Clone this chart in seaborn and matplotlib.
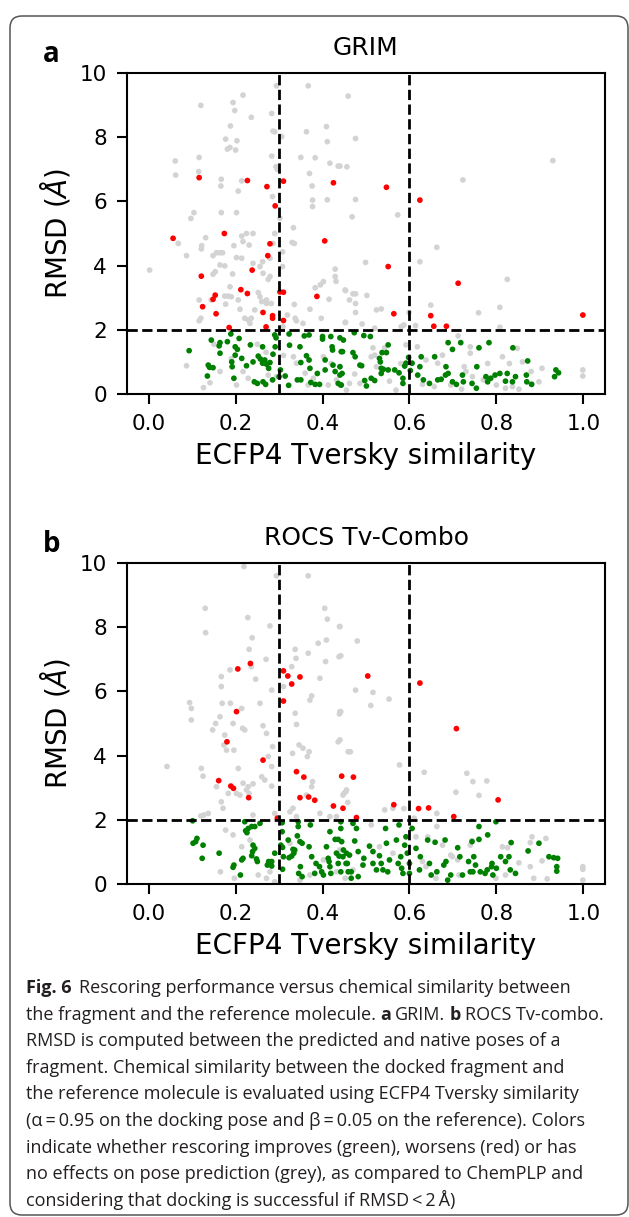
import matplotlib
matplotlib.use("Agg")
import matplotlib.pyplot as plt
from matplotlib.patches import FancyBboxPatch
import pandas as pd
import seaborn as sns

# ---- data: (Tversky similarity, RMSD) ----
grim_grey = [
    (0.002, 3.86), (0.061, 7.26), (0.062, 6.82), (0.068, 4.69), (0.087, 4.31), (0.087, 0.88),
    (0.097, 5.47), (0.104, 5.65), (0.12, 8.99), (0.116, 7.37), (0.115, 6.93), (0.121, 4.52),
    (0.122, 4.62), (0.131, 4.87), (0.116, 2.93), (0.116, 2.28), (0.12, 2.36), (0.126, 0.20),
    (0.141, 0.35), (0.144, 2.93), (0.148, 3.73), (0.153, 3.81), (0.148, 4.31), (0.156, 4.40),
    (0.164, 4.40), (0.17, 4.40), (0.167, 6.69), (0.166, 6.48), (0.167, 5.65), (0.164, 4.02),
    (0.175, 3.99), (0.177, 7.94), (0.181, 7.63), (0.187, 7.68), (0.188, 8.35), (0.194, 9.08),
    (0.198, 8.83), (0.203, 7.89), (0.2, 7.60), (0.206, 6.32), (0.214, 6.64), (0.202, 5.65),
    (0.196, 4.62), (0.202, 4.25), (0.214, 4.23), (0.214, 4.92), (0.217, 4.75), (0.225, 5.0),
    (0.24, 5.0), (0.231, 4.64), (0.217, 9.31), (0.236, 8.62), (0.175, 3.05), (0.183, 3.05),
    (0.19, 3.03), (0.177, 2.80), (0.193, 3.74), (0.187, 3.34), (0.206, 2.93), (0.21, 2.64),
    (0.221, 2.36), (0.229, 2.31), (0.236, 2.36), (0.233, 2.20), (0.24, 4.07), (0.244, 2.62),
    (0.256, 3.97), (0.262, 4.12), (0.263, 3.76), (0.252, 3.16), (0.256, 3.03), (0.26, 2.88),
    (0.271, 2.93), (0.275, 3.57), (0.279, 3.66), (0.271, 2.82), (0.282, 2.82), (0.283, 8.74),
    (0.286, 8.19), (0.29, 8.17), (0.283, 7.41), (0.293, 7.08), (0.296, 7.0), (0.285, 6.15),
    (0.29, 5.0), (0.279, 4.23), (0.286, 4.69), (0.294, 9.6), (0.306, 8.02), (0.308, 3.97),
    (0.308, 4.43), (0.302, 5.47), (0.333, 5.18), (0.335, 4.69), (0.33, 4.72), (0.335, 2.79),
    (0.337, 2.36), (0.367, 9.6), (0.363, 8.17), (0.35, 7.37), (0.37, 6.87), (0.376, 6.48),
    (0.377, 6.04), (0.377, 5.84), (0.383, 7.36), (0.371, 2.64), (0.383, 3.31), (0.395, 3.40),
    (0.402, 3.50), (0.409, 8.33), (0.411, 7.86), (0.417, 7.19), (0.436, 7.10), (0.429, 3.89),
    (0.429, 3.66), (0.431, 3.51), (0.411, 6.05), (0.415, 2.95), (0.452, 2.23), (0.452, 3.24),
    (0.319, 2.46), (0.309, 2.10), (0.355, 2.20), (0.397, 2.36), (0.34, 2.28), (0.164, 0.70),
    (0.202, 0.28), (0.217, 0.70), (0.229, 0.49), (0.275, 0.59), (0.294, 0.54), (0.333, 1.16),
    (0.34, 0.96), (0.367, 0.28), (0.379, 0.49), (0.413, 0.28), (0.432, 0.44), (0.402, 1.16),
    (0.44, 0.85), (0.455, 0.12), (0.459, 9.28), (0.476, 7.96), (0.456, 7.08), (0.44, 7.1),
    (0.476, 6.06), (0.468, 5.52), (0.573, 5.58), (0.499, 4.10), (0.624, 4.12), (0.663, 4.57),
    (0.723, 6.67), (0.93, 7.27), (0.825, 3.57), (0.808, 2.70), (0.759, 2.53), (0.649, 2.77),
    (0.453, 3.22), (0.47, 3.12), (0.476, 3.12), (0.502, 3.07), (0.462, 2.93), (0.476, 2.82),
    (0.476, 2.54), (0.524, 2.62), (0.535, 2.65), (0.599, 2.54), (0.453, 2.23), (0.491, 2.18),
    (0.52, 2.05), (0.581, 2.10), (0.614, 2.13), (0.808, 2.08), (0.587, 2.15), (0.516, 1.44),
    (0.52, 1.21), (0.543, 1.44), (0.618, 1.47), (0.676, 1.21), (0.712, 1.81), (0.74, 1.47),
    (0.74, 1.27), (0.814, 1.16), (0.848, 1.42), (0.905, 0.80), (0.898, 0.38), (0.999, 0.75),
    (0.999, 0.56), (0.474, 0.62), (0.462, 0.33), (0.486, 0.33), (0.554, 0.40), (0.569, 0.12),
    (0.657, 0.23), (0.726, 0.85), (0.73, 0.70), (0.745, 0.54), (0.821, 0.18), (0.852, 0.15),
    (0.837, 0.23), (0.882, 0.31), (0.665, 0.96), (0.638, 1.06), (0.695, 0.28), (0.77, 0.44),
    (0.8, 0.28), (0.524, 0.85), (0.512, 1.16), (0.592, 1.53), (0.27, 1.3), (0.25, 1.55),
    (0.31, 1.2), (0.36, 0.65), (0.19, 1.1), (0.15, 1.55), (0.42, 0.95), (0.58, 0.95),
    (0.63, 0.3), (0.72, 0.15), (0.86, 1.0), (0.88, 0.7), (0.78, 0.95), (0.83, 0.95),
]
grim_green = [
    (0.093, 1.35), (0.144, 1.68), (0.164, 1.60), (0.162, 1.50), (0.164, 1.27), (0.181, 1.63),
    (0.189, 1.87), (0.137, 0.90), (0.14, 0.83), (0.148, 0.82), (0.135, 0.56), (0.191, 1.0),
    (0.192, 0.85), (0.196, 0.49), (0.199, 1.47), (0.204, 1.39), (0.208, 1.73), (0.199, 1.21),
    (0.214, 1.11), (0.225, 0.88), (0.234, 1.53), (0.24, 1.0), (0.252, 1.18), (0.257, 1.09),
    (0.262, 0.96), (0.262, 1.47), (0.267, 1.06), (0.271, 0.93), (0.279, 0.98), (0.276, 0.80),
    (0.243, 0.38), (0.25, 0.33), (0.263, 0.38), (0.269, 0.30), (0.285, 0.44), (0.286, 1.24),
    (0.291, 1.47), (0.29, 1.84), (0.293, 1.75), (0.3, 0.54), (0.303, 0.75), (0.314, 0.56),
    (0.322, 0.27), (0.323, 1.87), (0.324, 1.52), (0.342, 0.44), (0.35, 0.44), (0.348, 1.47),
    (0.35, 0.98), (0.358, 1.81), (0.369, 1.84), (0.363, 1.19), (0.369, 1.06), (0.371, 0.80),
    (0.373, 0.36), (0.383, 0.30), (0.393, 0.30), (0.388, 0.64), (0.4, 1.79), (0.4, 1.71),
    (0.406, 0.75), (0.406, 1.06), (0.419, 1.79), (0.422, 1.47), (0.423, 1.37), (0.424, 0.90),
    (0.429, 0.70), (0.436, 0.33), (0.442, 0.28), (0.445, 0.64), (0.446, 1.32), (0.448, 1.68),
    (0.44, 1.75), (0.443, 1.32), (0.44, 0.85), (0.443, 0.28), (0.473, 1.91), (0.495, 1.82),
    (0.51, 1.79), (0.47, 1.29), (0.475, 1.16), (0.486, 0.90), (0.49, 0.88), (0.44, 0.59),
    (0.497, 0.42), (0.501, 0.25), (0.512, 0.49), (0.52, 0.42), (0.535, 0.80), (0.54, 0.77),
    (0.535, 0.64), (0.531, 1.11), (0.533, 1.0), (0.537, 1.29), (0.547, 1.29), (0.551, 1.53),
    (0.551, 0.75), (0.566, 0.75), (0.576, 0.66), (0.585, 0.33), (0.585, 0.49), (0.589, 0.87),
    (0.592, 0.96), (0.598, 1.14), (0.606, 0.96), (0.602, 0.73), (0.619, 0.59), (0.627, 1.16),
    (0.624, 0.85), (0.632, 0.44), (0.646, 0.33), (0.658, 1.16), (0.665, 0.44), (0.673, 0.46),
    (0.684, 0.85), (0.683, 0.59), (0.689, 0.64), (0.689, 1.60), (0.699, 1.39), (0.718, 1.60),
    (0.699, 0.38), (0.708, 0.30), (0.722, 0.59), (0.724, 0.38), (0.744, 0.33), (0.754, 0.18),
    (0.755, 0.85), (0.76, 1.44), (0.783, 1.60), (0.776, 0.54), (0.78, 0.38), (0.787, 0.49),
    (0.797, 0.59), (0.808, 0.64), (0.825, 0.64), (0.821, 0.40), (0.837, 0.38), (0.844, 0.54),
    (0.838, 1.44), (0.869, 0.59), (0.872, 1.03), (0.87, 0.38), (0.881, 0.30), (0.934, 0.54),
    (0.937, 0.75), (0.943, 0.66),
]
grim_red = [
    (0.056, 4.85), (0.116, 6.74), (0.174, 5.0), (0.227, 6.65), (0.121, 3.67), (0.124, 2.72),
    (0.148, 2.95), (0.153, 3.08), (0.155, 2.50), (0.185, 2.07), (0.212, 3.25), (0.227, 3.13),
    (0.238, 3.86), (0.272, 6.46), (0.291, 5.86), (0.279, 4.68), (0.274, 4.31), (0.263, 2.54),
    (0.285, 2.44), (0.285, 2.36), (0.270, 2.09), (0.302, 3.18), (0.31, 3.17), (0.310, 2.29),
    (0.31, 6.63), (0.405, 4.77), (0.387, 3.04), (0.425, 6.58), (0.547, 6.44), (0.624, 6.04),
    (0.551, 3.97), (0.712, 3.45), (0.564, 2.50), (0.649, 2.44), (0.656, 2.11), (0.685, 2.11),
    (0.999, 2.46),
]

rocs_grey = [
    (0.042, 3.66), (0.094, 5.65), (0.098, 5.47), (0.098, 5.11), (0.121, 3.60), (0.125, 3.36),
    (0.13, 8.59), (0.131, 7.83), (0.12, 2.12), (0.127, 2.15), (0.137, 2.20), (0.147, 4.80),
    (0.154, 5.0), (0.164, 5.21), (0.167, 6.46), (0.167, 6.15), (0.169, 5.63), (0.156, 3.03),
    (0.167, 2.56), (0.171, 2.36), (0.175, 4.64), (0.173, 4.33), (0.179, 4.17), (0.183, 2.82),
    (0.187, 6.67), (0.188, 5.63), (0.194, 5.0), (0.196, 4.17), (0.206, 3.60), (0.202, 2.82),
    (0.21, 2.77), (0.214, 5.47), (0.216, 4.85), (0.221, 4.80), (0.219, 9.89), (0.228, 8.30),
    (0.231, 7.31), (0.238, 7.67), (0.236, 6.77), (0.246, 6.38), (0.217, 3.14), (0.229, 3.03),
    (0.24, 3.12), (0.225, 2.93), (0.231, 2.82), (0.24, 2.15), (0.256, 5.63), (0.263, 4.93),
    (0.271, 4.69), (0.27, 7.0), (0.279, 8.04), (0.283, 6.04), (0.275, 3.97), (0.283, 3.66),
    (0.285, 4.28), (0.26, 3.34), (0.267, 3.24), (0.283, 3.05), (0.29, 2.20), (0.294, 9.6),
    (0.31, 6.15), (0.329, 6.77), (0.337, 7.31), (0.339, 7.03), (0.337, 5.32), (0.34, 4.97),
    (0.331, 4.07), (0.332, 2.36), (0.325, 2.25), (0.34, 2.10), (0.367, 9.6), (0.367, 7.19),
    (0.371, 5.73), (0.346, 4.33), (0.355, 4.23), (0.369, 4.12), (0.365, 3.97), (0.375, 3.03),
    (0.377, 3.19), (0.39, 7.50), (0.394, 6.41), (0.405, 8.59), (0.411, 8.25), (0.409, 7.60),
    (0.407, 6.93), (0.375, 5.86), (0.439, 8.02), (0.438, 7.08), (0.442, 5.37), (0.439, 5.30),
    (0.436, 4.43), (0.459, 4.12), (0.455, 2.93), (0.449, 2.82), (0.363, 2.77), (0.394, 2.20),
    (0.417, 2.10), (0.432, 2.10), (0.44, 8.02), (0.442, 7.11), (0.48, 7.57), (0.516, 5.97),
    (0.476, 6.04), (0.511, 5.56), (0.553, 5.76), (0.44, 5.37), (0.44, 4.49), (0.464, 4.12),
    (0.577, 3.71), (0.634, 3.48), (0.732, 3.45), (0.746, 3.19), (0.778, 3.21), (0.707, 2.86),
    (0.76, 2.76), (0.447, 2.77), (0.454, 2.88), (0.458, 2.54), (0.543, 2.31), (0.562, 2.36),
    (0.587, 2.35), (0.611, 2.05), (0.663, 2.20), (0.512, 1.84), (0.615, 1.47), (0.663, 1.79),
    (0.642, 1.47), (0.676, 1.21), (0.695, 0.90), (0.74, 1.21), (0.744, 1.35), (0.814, 1.16),
    (0.826, 1.13), (0.882, 1.47), (0.914, 1.42), (0.878, 1.29), (0.852, 0.66), (0.905, 0.72),
    (0.917, 0.16), (0.878, 0.54), (0.886, 0.18), (0.999, 0.54), (0.999, 0.46), (0.999, 0.12),
    (0.821, 0.28), (0.799, 0.18), (0.63, 0.70), (0.638, 0.54), (0.699, 0.85), (0.711, 0.75),
    (0.531, 1.16), (0.562, 0.96), (0.714, 0.28), (0.661, 0.18), (0.44, 1.06), (0.47, 0.44),
    (0.177, 1.68), (0.194, 1.53), (0.165, 0.38), (0.197, 0.18), (0.214, 1.16), (0.233, 1.37),
    (0.252, 0.28), (0.271, 0.18), (0.29, 0.07), (0.279, 0.38), (0.325, 1.27), (0.348, 0.12),
    (0.371, 0.28), (0.402, 0.75), (0.432, 0.38), (0.452, 0.18),
]
rocs_green = [
    (0.101, 1.97), (0.102, 1.27), (0.111, 1.42), (0.108, 1.32), (0.125, 1.21), (0.123, 0.80),
    (0.162, 0.96), (0.196, 0.59), (0.194, 0.52), (0.211, 0.28), (0.217, 0.80), (0.214, 0.75),
    (0.221, 1.94), (0.223, 1.66), (0.229, 1.73), (0.226, 1.60), (0.237, 1.79), (0.244, 1.79),
    (0.256, 1.89), (0.24, 1.21), (0.244, 1.11), (0.239, 1.01), (0.237, 0.88), (0.248, 0.78),
    (0.25, 0.70), (0.273, 0.59), (0.276, 0.70), (0.283, 0.56), (0.29, 0.96), (0.283, 0.70),
    (0.307, 1.91), (0.307, 1.63), (0.304, 1.21), (0.308, 1.14), (0.31, 0.85), (0.308, 0.46),
    (0.321, 1.37), (0.323, 0.82), (0.329, 0.87), (0.334, 0.96), (0.332, 1.08), (0.336, 1.06),
    (0.344, 1.94), (0.344, 1.79), (0.342, 1.50), (0.348, 1.32), (0.353, 1.27), (0.369, 1.16),
    (0.349, 0.54), (0.345, 0.33), (0.353, 0.23), (0.372, 1.84), (0.375, 0.85), (0.385, 0.64),
    (0.393, 0.54), (0.398, 0.38), (0.402, 0.28), (0.382, 0.33), (0.409, 1.16), (0.417, 1.63),
    (0.413, 0.80), (0.415, 0.70), (0.417, 0.54), (0.419, 0.33), (0.429, 1.39), (0.436, 1.39),
    (0.442, 1.73), (0.442, 1.94), (0.432, 0.96), (0.438, 0.87), (0.436, 0.64), (0.442, 0.38),
    (0.448, 1.06), (0.455, 0.96), (0.457, 0.64), (0.459, 0.38), (0.444, 1.32), (0.47, 1.89),
    (0.478, 1.73), (0.474, 1.34), (0.482, 1.01), (0.495, 0.80), (0.493, 0.59), (0.447, 0.85),
    (0.454, 0.64), (0.462, 0.90), (0.466, 0.38), (0.466, 0.18), (0.482, 0.23), (0.508, 1.18),
    (0.516, 1.01), (0.531, 0.88), (0.516, 0.64), (0.524, 0.44), (0.535, 0.64), (0.539, 0.44),
    (0.545, 1.73), (0.547, 1.27), (0.554, 0.75), (0.55, 0.38), (0.57, 1.37), (0.576, 1.84),
    (0.58, 0.85), (0.574, 0.64), (0.582, 0.49), (0.589, 1.21), (0.585, 0.33), (0.592, 1.47),
    (0.595, 0.96), (0.6, 0.64), (0.6, 0.33), (0.606, 1.73), (0.615, 1.11), (0.625, 0.85),
    (0.623, 0.44), (0.642, 1.37), (0.646, 0.64), (0.65, 0.28), (0.659, 1.30), (0.663, 0.38),
    (0.682, 1.37), (0.679, 0.59), (0.684, 0.70), (0.688, 0.12), (0.695, 0.28), (0.711, 1.13),
    (0.716, 0.85), (0.722, 0.28), (0.736, 0.70), (0.74, 0.38), (0.746, 0.38), (0.744, 1.32),
    (0.76, 1.39), (0.76, 1.79), (0.78, 1.53), (0.748, 0.85), (0.752, 0.59), (0.763, 0.38),
    (0.774, 0.33), (0.779, 0.44), (0.789, 0.54), (0.79, 0.64), (0.792, 0.28), (0.8, 0.49),
    (0.799, 1.94), (0.81, 0.85), (0.821, 0.70), (0.829, 0.85), (0.832, 0.44), (0.844, 0.33),
    (0.834, 1.29), (0.898, 1.27), (0.873, 1.03), (0.921, 0.85), (0.932, 0.82), (0.941, 0.80),
    (0.939, 0.54), (0.939, 0.40),
]
rocs_red = [
    (0.205, 6.70), (0.234, 6.87), (0.202, 5.37), (0.18, 4.43), (0.161, 3.22), (0.189, 3.05),
    (0.195, 2.98), (0.23, 2.69), (0.263, 3.86), (0.296, 2.05), (0.31, 6.64), (0.32, 6.48),
    (0.329, 6.23), (0.348, 6.45), (0.31, 5.70), (0.34, 3.50), (0.357, 3.33), (0.348, 2.69),
    (0.368, 2.71), (0.382, 2.61), (0.425, 2.43), (0.447, 2.36), (0.444, 3.36), (0.471, 3.33),
    (0.504, 6.48), (0.624, 6.26), (0.708, 4.84), (0.478, 2.07), (0.564, 2.47), (0.621, 2.35),
    (0.644, 2.37), (0.702, 2.10), (0.804, 2.62),
]

panel_titles = ["GRIM", "ROCS Tv-Combo"]
panel_letters = ["a", "b"]
x_ticks = [0.0, 0.2, 0.4, 0.6, 0.8, 1.0]
y_ticks = [0, 2, 4, 6, 8, 10]
sim_cutoffs = [0.3, 0.6]
rmsd_cutoff = 2

caption = [
    [("Fig. 6", True), ("Rescoring performance versus chemical similarity between", False)],
    [("the fragment and the reference molecule.", False), ("a", True), ("GRIM.", False),
     ("b", True), ("ROCS Tv-combo.", False)],
    [("RMSD is computed between the predicted and native poses of a", False)],
    [("fragment. Chemical similarity between the docked fragment and", False)],
    [("the reference molecule is evaluated using ECFP4 Tversky similarity", False)],
    [("(\u03b1\u2009=\u20090.95 on the docking pose and \u03b2\u2009=\u20090.05 on the reference). Colors", False)],
    [("indicate whether rescoring improves (green), worsens (red) or has", False)],
    [("no effects on pose prediction (grey), as compared to ChemPLP and", False)],
    [("considering that docking is successful if RMSD\u2009<\u20092\u2009\u00c5)", False)],
]

palette = {"none": "lightgrey", "improves": "green", "worsens": "red"}

W, H = 629, 1217
sns.set_style("ticks")
plt.rcParams['font.family'] = ['DejaVu Sans']
for key in ['text.color', 'axes.labelcolor', 'xtick.color', 'ytick.color', 'axes.edgecolor']:
    plt.rcParams[key] = 'black'
cap_font = ['Open Sans', 'DejaVu Sans']
cap_size = 13

fig = plt.figure(figsize=(W / 100, H / 100), dpi=100)

# background layer in pixel coordinates for the frame and caption
bg = fig.add_axes([0, 0, 1, 1], zorder=-1)
bg.set_xlim(0, W)
bg.set_ylim(H, 0)
bg.axis('off')
bg.add_patch(FancyBboxPatch((10, 16), 618, 1199, boxstyle='round,pad=0,rounding_size=12',
                            fc='white', ec='#555555', lw=1.1))


def make_frame(grey, green, red):
    rows = [(x, y, "none") for x, y in grey]
    rows += [(x, y, "improves") for x, y in green]
    rows += [(x, y, "worsens") for x, y in red]
    return pd.DataFrame(rows, columns=["similarity", "rmsd", "effect"])


panels = [(grim_grey, grim_green, grim_red), (rocs_grey, rocs_green, rocs_red)]
axes_top = [73, 563]
for i, (grey, green, red) in enumerate(panels):
    top = axes_top[i]
    ax = fig.add_axes([127 / W, 1 - (top + 321) / H, 478 / W, 321 / H])
    df = make_frame(grey, green, red)
    sns.scatterplot(data=df, x="similarity", y="rmsd", hue="effect", palette=palette,
                    s=17, linewidth=0, legend=False, ax=ax)
    for c in sim_cutoffs:
        ax.axvline(c, color='k', ls='--', lw=2)
    ax.axhline(rmsd_cutoff, color='k', ls='--', lw=2)

    ax.set_xlim(-0.05, 1.05)
    ax.set_ylim(0, 10)
    ax.set_xticks(x_ticks)
    ax.set_yticks(y_ticks)
    ax.tick_params(labelsize=15.5, length=7, width=1.5, pad=7.5, colors='k')
    for sp in ax.spines.values():
        sp.set_linewidth(1.5)
        sp.set_color('k')

    ax.set_title(panel_titles[i], fontsize=18, pad=13)
    ax.set_xlabel('ECFP4 Tversky similarity', fontsize=20, labelpad=6)
    ax.set_ylabel(r'RMSD ($\AA$)', fontsize=20, labelpad=5)

    bg.text(43, top - 11, panel_letters[i], fontsize=20, fontweight='bold', family=cap_font,
            va='baseline', ha='left')

# caption, drawn segment by segment so bold words sit inline
renderer = fig.canvas.get_renderer()


def seg_width(txt, bold):
    t = bg.text(0, 0, txt, fontsize=cap_size, family=cap_font, fontweight='bold' if bold else 'normal')
    w = t.get_window_extent(renderer).width
    t.remove()
    return w


space = seg_width("x x", False) - seg_width("xx", False)
for li, line in enumerate(caption):
    x = 26
    y = 993 + 26.6 * li
    for si, (txt, bold) in enumerate(line):
        if si > 0:
            x += space * (1.6 if line[si - 1][0] == "Fig. 6" else 0.9)
        t = bg.text(x, y, txt, fontsize=cap_size, family=cap_font, color='#231f20',
                    fontweight='bold' if bold else 'normal', va='baseline', ha='left')
        x += t.get_window_extent(renderer).width

fig.savefig('out.png', dpi=100)
